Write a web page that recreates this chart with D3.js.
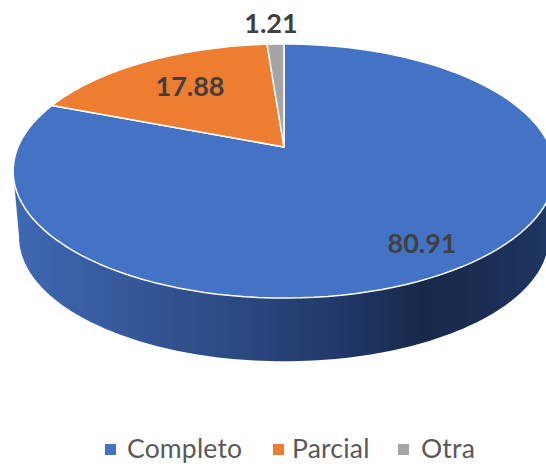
<!DOCTYPE html>
<html><head><meta charset="utf-8">
<script src="https://cdn.jsdelivr.net/npm/d3@7"></script>
<style>html,body{margin:0;padding:0;background:#fff}svg{display:block}</style>
</head><body><div id="c"></div>
<script>
const categories = ["Completo","Parcial","Otra"];
const values = [80.91,17.88,1.21];
const colors = ["#4472c4","#ed7d31","#a5a5a5"];
const labelPos = [[422,244],[190,87],[271,24]];
const legendPos = [[105,127],[273,292],[398,421]];

const W=546,H=467;
const svg=d3.select("#c").append("svg").attr("width",W).attr("height",H);
const defs=svg.append("defs");
const grad=defs.append("linearGradient").attr("id","wall").attr("gradientUnits","userSpaceOnUse")
  .attr("x1",13).attr("x2",555).attr("y1",0).attr("y2",0);
[[0,"#3f69b3"],[0.2,"#36599b"],[0.4,"#2c4a82"],[0.6,"#21386a"],[0.76,"#172949"],[0.9,"#1b2f57"],[1,"#203864"]]
 .forEach(s=>grad.append("stop").attr("offset",s[0]).attr("stop-color",s[1]));

// perspective projection of the unit disc
const k=-0.189, apexX=284, apexY=147, R=266, S=122.5;
const proj=a=>{const x=Math.sin(a),y=-Math.cos(a),d=1+k*y;
  return [apexX+R*x/d, apexY+S*y/d];};
// lower rim of the wall
const low=a=>{const p=proj(a);return [apexX+(p[0]-apexX)*0.978, 237+(p[1]-171)*0.978];};
const line=d3.line();
const steps=(a0,a1)=>d3.range(0,121).map(i=>a0+(a1-a0)*i/120);

const wallStart=Math.acos(-0.189), wallEnd=2*Math.PI-wallStart;
const upper=steps(wallStart,wallEnd).map(proj);
const lower=steps(wallEnd,wallStart).map(low);
svg.append("path").attr("d",line(upper.concat(lower))+"Z").attr("fill","url(#wall)");

const pie=d3.pie().sort(null).startAngle(0).endAngle(2*Math.PI);
const arcs=pie(values);
svg.append("g").selectAll("path").data(arcs).join("path")
  .attr("d",d=>line([[apexX,apexY]].concat(steps(d.startAngle,d.endAngle).map(proj)))+"Z")
  .attr("fill",(d,i)=>colors[i]).attr("stroke","#fff").attr("stroke-width",1.5).attr("stroke-linejoin","round");

svg.append("g").selectAll("text").data(values).join("text")
  .attr("x",(d,i)=>labelPos[i][0]).attr("y",(d,i)=>labelPos[i][1]+9)
  .attr("text-anchor","middle").attr("font-family","Lato, 'Open Sans', sans-serif")
  .attr("font-weight",700).attr("font-size",27).attr("fill","#404040").text(d=>d3.format(".2f")(d));

const lg=svg.append("g").selectAll("g").data(categories).join("g");
lg.append("rect").attr("x",(d,i)=>legendPos[i][0]).attr("y",444).attr("width",11).attr("height",11)
  .attr("fill",(d,i)=>colors[i]);
lg.append("text").attr("x",(d,i)=>legendPos[i][1]).attr("y",458)
  .attr("font-family","Lato, 'Open Sans', sans-serif").attr("font-size",26.5).attr("letter-spacing",0.2).attr("fill","#595959").text(d=>d);
</script></body></html>
